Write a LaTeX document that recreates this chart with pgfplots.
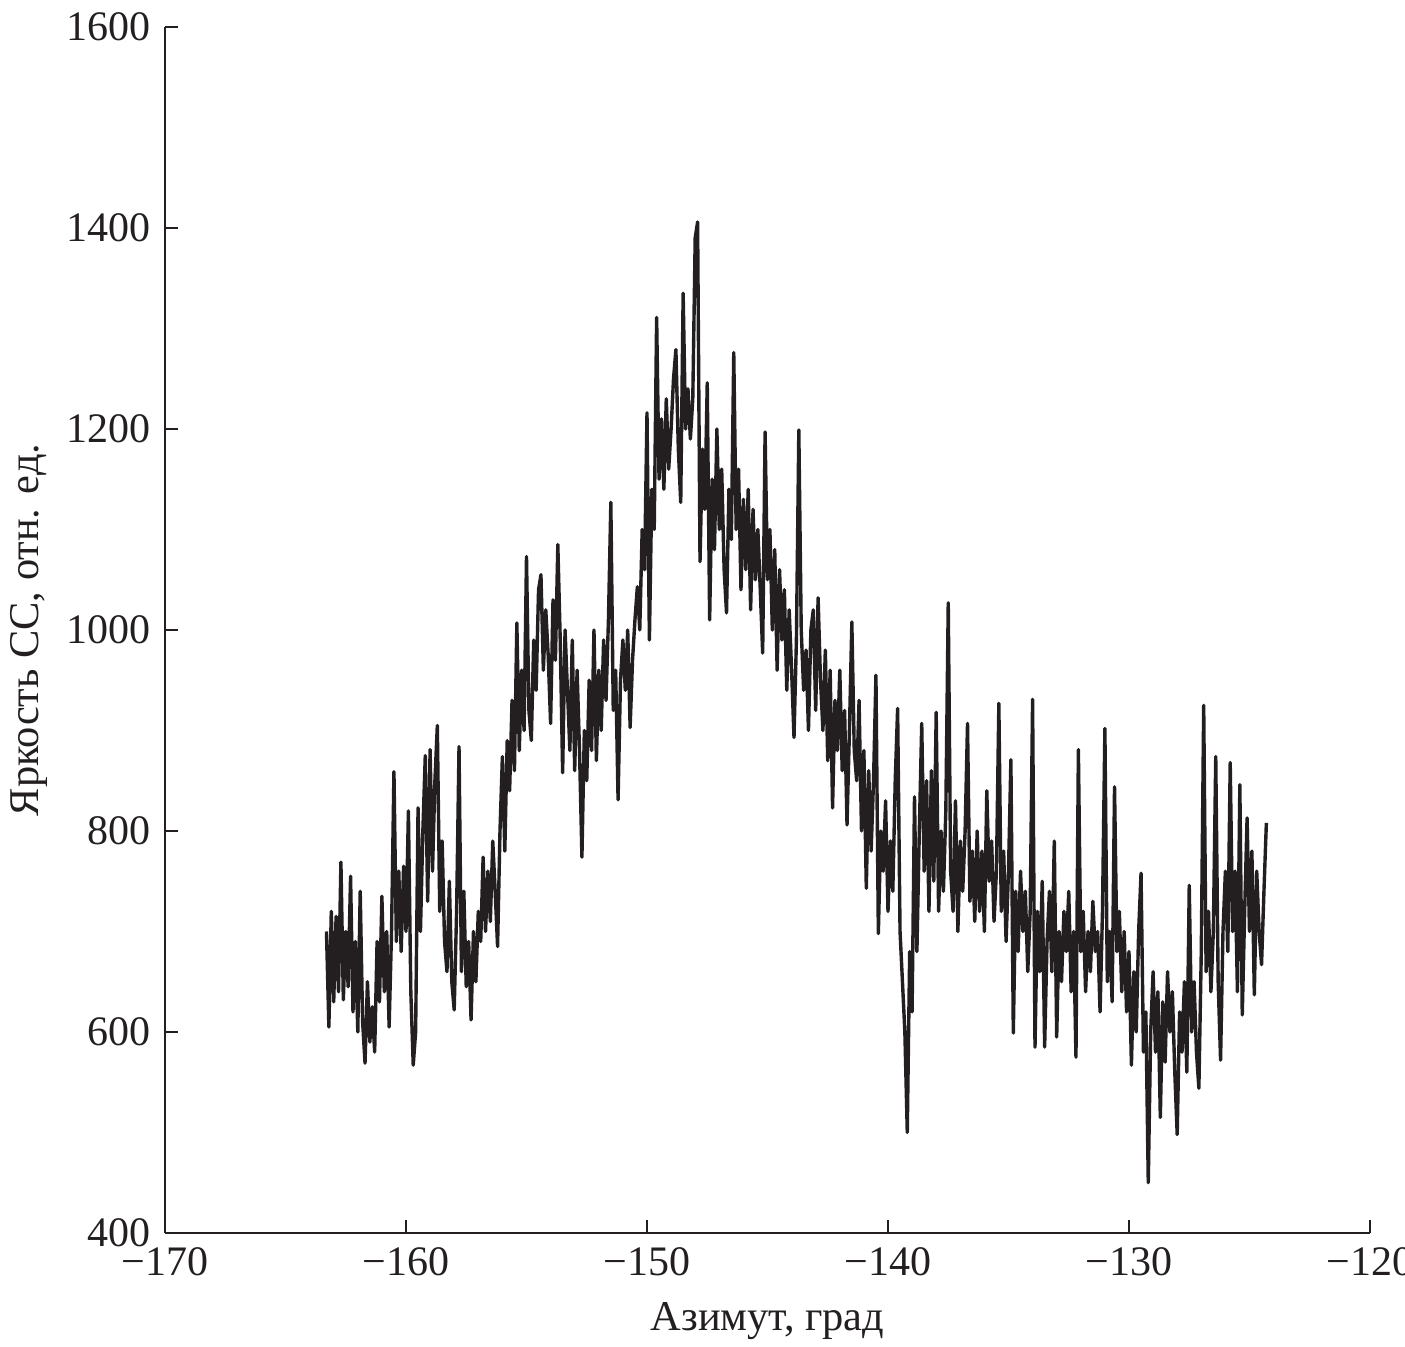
\documentclass[border=0pt]{standalone}
\usepackage{pgfplots}
\pgfplotsset{compat=1.18}
\usepackage{fontspec}
\setmainfont{Liberation Serif}
\definecolor{ink}{HTML}{231F20}
\begin{document}
\begin{tikzpicture}
\begin{axis}[
  at={(0,0)}, anchor=south west,
  scale only axis, width=301.25pt, height=301.5pt,
  xmin=-170, xmax=-120, ymin=400, ymax=1600,
  axis x line*=bottom, axis y line*=left,
  axis line style={ink, line width=0.6pt},
  xtick={-170,-160,-150,-140,-130,-120},
  xticklabels={−170,−160,−150,−140,−130,−120},
  ytick={400,600,800,1000,1200,1400,1600},
  yticklabels={400,600,800,1000,1200,1400,1600},
  tick align=inside, major tick length=3.3pt,
  tick style={ink, line width=0.6pt},
  ticklabel style={font=\fontsize{10.5}{12}\selectfont, text=ink},
  label style={font=\fontsize{10.6}{12.5}\selectfont, text=ink},
  xlabel={Азимут, град},
  ylabel={Яркость СС, отн. ед.},
  ylabel style={yshift=-2pt},
  clip=false,
]
\addplot[ink, line width=0.85pt, line join=round] table[row sep=\\] {
x y\\
-163.3 700\\ -163.2 605\\ -163.1 720\\ -163.0 630\\ -162.9 715\\ -162.8 640\\ -162.7 769\\ -162.6 632\\ -162.5 700\\ -162.4 645\\
-162.3 755\\ -162.2 620\\ -162.1 690\\ -162.0 600\\ -161.9 740\\ -161.8 610\\ -161.7 569\\ -161.6 650\\ -161.5 590\\ -161.4 625\\
-161.3 580\\ -161.2 690\\ -161.1 630\\ -161.0 735\\ -160.9 640\\ -160.8 700\\ -160.7 605\\ -160.6 700\\ -160.5 859\\ -160.4 690\\
-160.3 760\\ -160.2 680\\ -160.1 765\\ -160.0 700\\ -159.9 820\\ -159.8 640\\ -159.7 567\\ -159.6 600\\ -159.5 823\\ -159.4 700\\
-159.3 800\\ -159.2 875\\ -159.1 730\\ -159.0 881\\ -158.9 760\\ -158.8 850\\ -158.7 905\\ -158.6 720\\ -158.5 790\\ -158.4 690\\
-158.3 660\\ -158.2 750\\ -158.1 650\\ -158.0 622\\ -157.9 720\\ -157.8 884\\ -157.7 660\\ -157.6 740\\ -157.5 645\\ -157.4 690\\
-157.3 612\\ -157.2 700\\ -157.1 650\\ -157.0 720\\ -156.9 690\\ -156.8 774\\ -156.7 700\\ -156.6 760\\ -156.5 710\\ -156.4 790\\
-156.3 740\\ -156.2 685\\ -156.1 800\\ -156.0 874\\ -155.9 780\\ -155.8 890\\ -155.7 840\\ -155.6 930\\ -155.5 860\\ -155.4 1007\\
-155.3 880\\ -155.2 960\\ -155.1 900\\ -155.0 1073\\ -154.9 920\\ -154.8 890\\ -154.7 990\\ -154.6 940\\ -154.5 1040\\ -154.4 1055\\
-154.3 960\\ -154.2 1020\\ -154.1 975\\ -154.0 907\\ -153.9 1030\\ -153.8 970\\ -153.7 1085\\ -153.6 990\\ -153.5 858\\ -153.4 1000\\
-153.3 940\\ -153.2 880\\ -153.1 990\\ -153.0 860\\ -152.9 960\\ -152.8 880\\ -152.7 774\\ -152.6 900\\ -152.5 850\\ -152.4 950\\
-152.3 880\\ -152.2 1000\\ -152.1 870\\ -152.0 960\\ -151.9 900\\ -151.8 990\\ -151.7 930\\ -151.6 1010\\ -151.5 1127\\ -151.4 920\\
-151.3 960\\ -151.2 831\\ -151.1 950\\ -151.0 990\\ -150.9 940\\ -150.8 1000\\ -150.7 903\\ -150.6 970\\ -150.5 1010\\ -150.4 1043\\
-150.3 1000\\ -150.2 1100\\ -150.1 1060\\ -150.0 1216\\ -149.9 990\\ -149.8 1140\\ -149.7 1100\\ -149.6 1311\\ -149.5 1150\\ -149.4 1210\\
-149.3 1140\\ -149.2 1230\\ -149.1 1160\\ -149.0 1200\\ -148.9 1250\\ -148.8 1279\\ -148.7 1180\\ -148.6 1127\\ -148.5 1335\\ -148.4 1200\\
-148.3 1240\\ -148.2 1190\\ -148.1 1230\\ -148.0 1390\\ -147.9 1406\\ -147.8 1068\\ -147.7 1180\\ -147.6 1120\\ -147.5 1246\\ -147.4 1010\\
-147.3 1150\\ -147.2 1080\\ -147.1 1200\\ -147.0 1100\\ -146.9 1160\\ -146.8 1060\\ -146.7 1017\\ -146.6 1140\\ -146.5 1090\\ -146.4 1276\\
-146.3 1100\\ -146.2 1160\\ -146.1 1040\\ -146.0 1130\\ -145.9 1060\\ -145.8 1140\\ -145.7 1020\\ -145.6 1120\\ -145.5 1050\\ -145.4 1100\\
-145.3 1040\\ -145.2 977\\ -145.1 1197\\ -145.0 1050\\ -144.9 1100\\ -144.8 1000\\ -144.7 1080\\ -144.6 960\\ -144.5 1060\\ -144.4 990\\
-144.3 1040\\ -144.2 940\\ -144.1 1020\\ -144.0 960\\ -143.9 893\\ -143.8 990\\ -143.7 1199\\ -143.6 1000\\ -143.5 940\\ -143.4 980\\
-143.3 900\\ -143.2 1000\\ -143.1 1020\\ -143.0 920\\ -142.9 1032\\ -142.8 950\\ -142.7 900\\ -142.6 980\\ -142.5 870\\ -142.4 960\\
-142.3 823\\ -142.2 930\\ -142.1 880\\ -142.0 960\\ -141.9 860\\ -141.8 920\\ -141.7 806\\ -141.6 900\\ -141.5 1008\\ -141.4 880\\
-141.3 850\\ -141.2 930\\ -141.1 800\\ -141.0 880\\ -140.9 743\\ -140.8 860\\ -140.7 780\\ -140.6 850\\ -140.5 955\\ -140.4 698\\
-140.3 800\\ -140.2 760\\ -140.1 830\\ -140.0 720\\ -139.9 790\\ -139.8 740\\ -139.7 850\\ -139.6 922\\ -139.5 700\\ -139.4 650\\
-139.3 600\\ -139.2 500\\ -139.1 680\\ -139.0 620\\ -138.9 834\\ -138.8 680\\ -138.7 800\\ -138.6 907\\ -138.5 760\\ -138.4 850\\
-138.3 720\\ -138.2 860\\ -138.1 750\\ -138.0 918\\ -137.9 720\\ -137.8 800\\ -137.7 740\\ -137.6 820\\ -137.5 1027\\ -137.4 760\\
-137.3 720\\ -137.2 830\\ -137.1 700\\ -137.0 790\\ -136.9 740\\ -136.8 800\\ -136.7 907\\ -136.6 730\\ -136.5 780\\ -136.4 710\\
-136.3 800\\ -136.2 720\\ -136.1 780\\ -136.0 700\\ -135.9 840\\ -135.8 750\\ -135.7 790\\ -135.6 710\\ -135.5 760\\ -135.4 927\\
-135.3 720\\ -135.2 780\\ -135.1 690\\ -135.0 760\\ -134.9 871\\ -134.8 599\\ -134.7 740\\ -134.6 680\\ -134.5 760\\ -134.4 700\\
-134.3 740\\ -134.2 660\\ -134.1 720\\ -134.0 931\\ -133.9 585\\ -133.8 720\\ -133.7 660\\ -133.6 750\\ -133.5 585\\ -133.4 690\\
-133.3 740\\ -133.2 660\\ -133.1 790\\ -133.0 595\\ -132.9 700\\ -132.8 650\\ -132.7 720\\ -132.6 680\\ -132.5 740\\ -132.4 640\\
-132.3 700\\ -132.2 575\\ -132.1 881\\ -132.0 680\\ -131.9 720\\ -131.8 640\\ -131.7 700\\ -131.6 660\\ -131.5 730\\ -131.4 680\\
-131.3 700\\ -131.2 620\\ -131.1 720\\ -131.0 902\\ -130.9 650\\ -130.8 700\\ -130.7 630\\ -130.6 844\\ -130.5 680\\ -130.4 720\\
-130.3 640\\ -130.2 700\\ -130.1 620\\ -130.0 680\\ -129.9 567\\ -129.8 660\\ -129.7 600\\ -129.6 700\\ -129.5 758\\ -129.4 580\\
-129.3 620\\ -129.2 450\\ -129.1 600\\ -129.0 660\\ -128.9 580\\ -128.8 640\\ -128.7 515\\ -128.6 630\\ -128.5 570\\ -128.4 660\\
-128.3 600\\ -128.2 640\\ -128.1 560\\ -128.0 498\\ -127.9 620\\ -127.8 580\\ -127.7 650\\ -127.6 560\\ -127.5 746\\ -127.4 600\\
-127.3 650\\ -127.2 580\\ -127.1 544\\ -127.0 680\\ -126.9 925\\ -126.8 660\\ -126.7 720\\ -126.6 640\\ -126.5 700\\ -126.4 874\\
-126.3 650\\ -126.2 572\\ -126.1 700\\ -126.0 760\\ -125.9 680\\ -125.8 868\\ -125.7 700\\ -125.6 760\\ -125.5 640\\ -125.4 846\\
-125.3 617\\ -125.2 720\\ -125.1 813\\ -125.0 700\\ -124.9 780\\ -124.8 637\\ -124.7 760\\ -124.6 700\\ -124.5 667\\ -124.4 740\\
-124.3 808\\
};
\end{axis}
\pgfresetboundingbox
\useasboundingbox (-41.25pt,-28.5pt) rectangle (310pt,308.25pt);
\end{tikzpicture}
\end{document}
